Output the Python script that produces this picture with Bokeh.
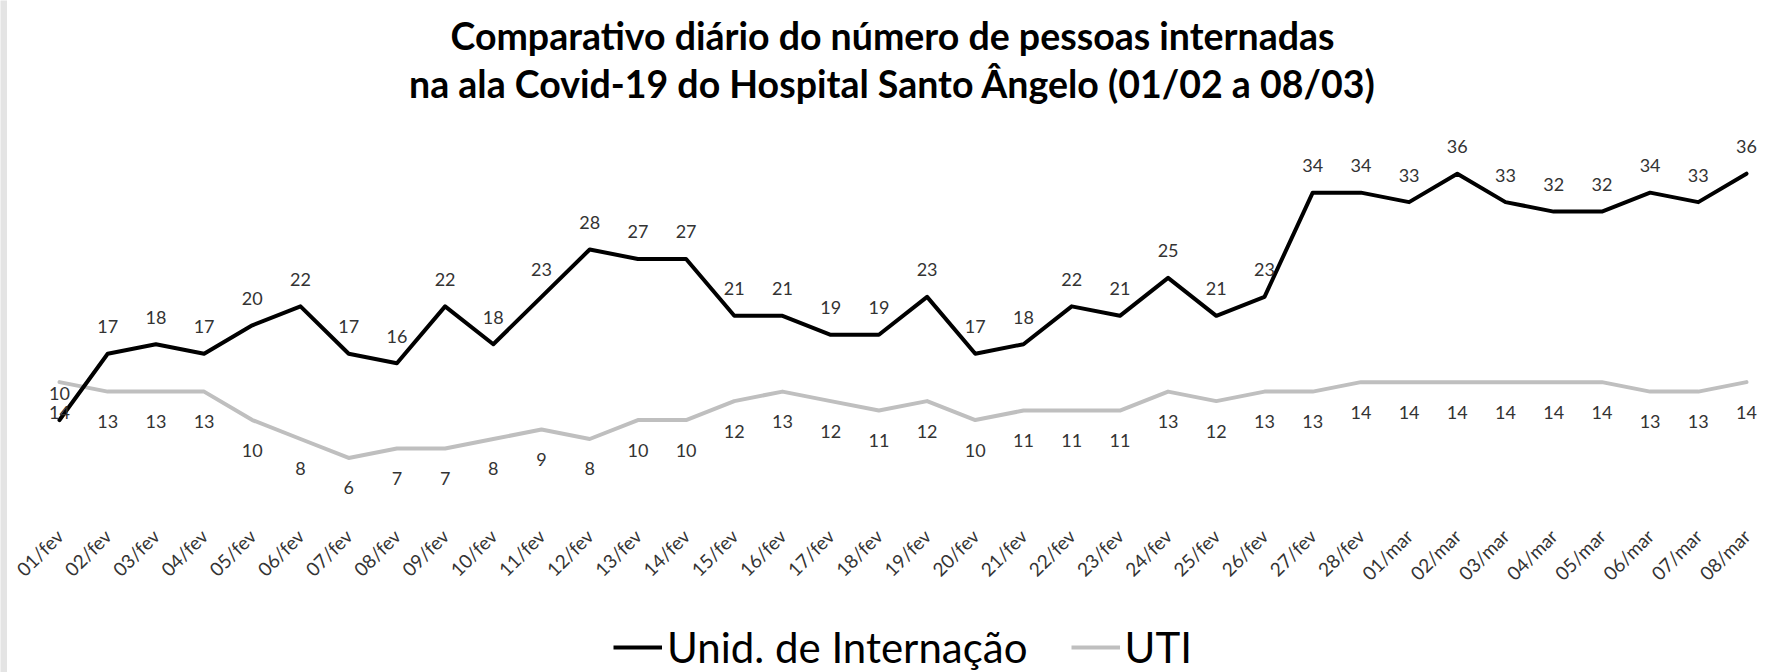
import math
from bokeh.plotting import figure
from bokeh.layouts import column, row
from bokeh.models import ColumnDataSource, Range1d, FixedTicker, Legend, LegendItem
from bokeh.core.properties import value
from bokeh.embed import file_html
from bokeh.resources import INLINE

days = ["01/fev", "02/fev", "03/fev", "04/fev", "05/fev", "06/fev", "07/fev", "08/fev",
        "09/fev", "10/fev", "11/fev", "12/fev", "13/fev", "14/fev", "15/fev", "16/fev",
        "17/fev", "18/fev", "19/fev", "20/fev", "21/fev", "22/fev", "23/fev", "24/fev",
        "25/fev", "26/fev", "27/fev", "28/fev", "01/mar", "02/mar", "03/mar", "04/mar",
        "05/mar", "06/mar", "07/mar", "08/mar"]
internacao = [10, 17, 18, 17, 20, 22, 17, 16, 22, 18, 23, 28, 27, 27, 21, 21, 19, 19,
              23, 17, 18, 22, 21, 25, 21, 23, 34, 34, 33, 36, 33, 32, 32, 34, 33, 36]
uti = [14, 13, 13, 13, 10, 8, 6, 7, 7, 8, 9, 8, 10, 10, 12, 13, 12, 11,
       12, 10, 11, 11, 11, 13, 12, 13, 13, 14, 14, 14, 14, 14, 14, 13, 13, 14]
title_lines = ["Comparativo diário do número de pessoas internadas",
               "na ala Covid-19 do Hospital Santo Ângelo (01/02 a 08/03)"]
series_names = ["Unid. de Internação", "UTI"]

STRIP = 7                      # light-gray strip at the far left of the page
W, H = 1787 - STRIP, 672
LEG_H = 77
MAIN_H = H - LEG_H
FONT = "Lato"
BLACK, GRAY = "#000000", "#bfbfbf"

# pixel geometry (canvas coordinates of the main figure)
x_first_px, x_last_px = 52.0, 1739.0
px_per_x = (x_last_px - x_first_px) / (len(days) - 1)
zero_px = 521.1          # canvas y of value 0
px_per_y = 9.6
frame_bottom = 535.0
x0 = -x_first_px / px_per_x
x1 = (len(days) - 1) + (W - x_last_px) / px_per_x
y1 = zero_px / px_per_y
y0 = (zero_px - frame_bottom) / px_per_y

p = figure(width=W, height=MAIN_H, output_backend="svg", toolbar_location=None,
           x_range=Range1d(x0, x1), y_range=Range1d(y0, y1),
           y_axis_location=None, min_border_left=0, min_border_right=0,
           min_border_top=0, min_border_bottom=int(MAIN_H - frame_bottom))
p.outline_line_color = None
p.grid.visible = False
p.background_fill_color = "white"
p.border_fill_color = "white"

xs = list(range(len(days)))
src = ColumnDataSource(dict(x=xs, a=internacao, b=uti,
                            la=[str(v) for v in internacao], lb=[str(v) for v in uti]))

p.line("x", "b", source=src, line_color=GRAY, line_width=4,
       line_join="round", line_cap="round")
p.line("x", "a", source=src, line_color=BLACK, line_width=4,
       line_join="round", line_cap="round")

p.text("x", "a", text="la", source=src, text_font=value(FONT), text_font_size="18px",
       text_color="#333333", text_align="center", text_baseline="middle", y_offset=-27)
p.text("x", "b", text="lb", source=src, text_font=value(FONT), text_font_size="18px",
       text_color="#333333", text_align="center", text_baseline="middle", y_offset=30)

# title (two lines, centered)
cx = (885.0 - x_first_px) / px_per_x
t1y = (zero_px - 35.7) / px_per_y
t2y = (zero_px - 84.0) / px_per_y
p.text(x=[cx, cx], y=[t1y, t2y], text=title_lines, text_font=value(FONT),
       text_font_size="37.5px", text_font_style="bold", text_color="#000000",
       text_align="center", text_baseline="middle")

ax = p.xaxis[0]
ax.ticker = FixedTicker(ticks=xs)
ax.major_label_overrides = {i: d for i, d in enumerate(days)}
ax.major_label_orientation = math.pi / 4
ax.major_label_text_font = FONT
ax.major_label_text_font_size = "19px"
ax.major_label_text_color = "#333333"
ax.axis_line_color = None
ax.major_tick_line_color = None
ax.minor_tick_line_color = None
ax.major_tick_out = 0
ax.major_tick_in = 0
ax.major_label_standoff = 4

# legend strip below
q = figure(width=W, height=LEG_H, output_backend="svg", toolbar_location=None,
           x_range=Range1d(-10, -9), y_range=Range1d(-10, -9),
           x_axis_location=None, y_axis_location=None, min_border=0)
q.outline_line_color = None
q.grid.visible = False
q.background_fill_color = "white"
q.border_fill_color = "white"
la = q.line("x", "a", source=src, line_color=BLACK, line_width=4)
lb = q.line("x", "b", source=src, line_color=GRAY, line_width=4)
legend = Legend(items=[LegendItem(label=series_names[0], renderers=[la]),
                       LegendItem(label=series_names[1], renderers=[lb])],
                orientation="horizontal", location=(606, 0),
                label_text_font=FONT, label_text_font_size="42px",
                label_text_color="#000000", glyph_width=49, glyph_height=40,
                label_height=40, label_standoff=5, spacing=43, padding=0, margin=0,
                border_line_color=None, background_fill_alpha=0)
q.add_layout(legend, "center")

# thin light-gray strip at the left edge of the page
s = figure(width=STRIP, height=H, output_backend="svg", toolbar_location=None,
           x_range=Range1d(0, 1), y_range=Range1d(0, 1),
           x_axis_location=None, y_axis_location=None, min_border=0)
s.outline_line_color = None
s.grid.visible = False
s.background_fill_color = "#e4e4e4"
s.border_fill_color = "#e4e4e4"
s.line([2, 3], [2, 3], line_alpha=0)

layout = row(s, column(p, q, spacing=0), spacing=0)
open("out.html", "w").write(file_html(layout, INLINE))
